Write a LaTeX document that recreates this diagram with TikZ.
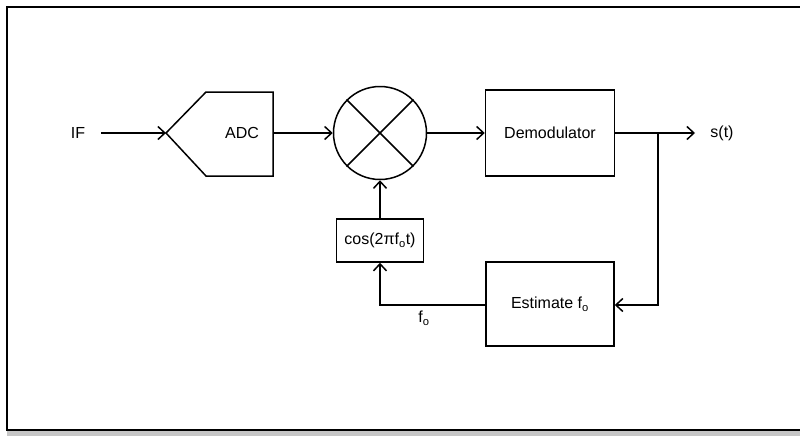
\documentclass[tikz,border=0pt]{standalone}
\usepackage{fontspec}
\setmainfont{Liberation Sans}
\usetikzlibrary{arrows.meta}
\begin{document}
\begin{tikzpicture}[x=1pt,y=-1pt,
  every node/.style={font=\fontsize{16}{18}\selectfont},
  conn/.style={line width=1.5pt,-{Straight Barb[length=7pt,width=13pt,line width=1.5pt]}},
  blk/.style={draw,line width=1.5pt,rectangle,inner sep=0pt}]
\useasboundingbox (0,0) rectangle (800,437);
\fill[gray!45] (7,431) rectangle (800,436);
\draw[line width=1.8pt] (812,7) -- (7,7) -- (7,430) -- (812,430);
% nodes
\node (if) at (78,133) {IF};
\coordinate (ifs) at (101,133);
\coordinate (adctip) at (166,133);
\draw[line width=1.5pt] (166,133) -- (206,92) -- (273,92) -- (273,176) -- (206,176) -- cycle;
\node (adc) at (242,133) {ADC};
\coordinate (adcout) at (273,133);
\node[draw,circle,line width=1.5pt,minimum size=93pt,inner sep=0pt] (mix) at (380,133) {};
\draw[line width=1.5pt] (mix.45) -- (mix.225) (mix.135) -- (mix.315);
\node[blk,minimum width=129pt,minimum height=86pt] (dem) at (550,133) {Demodulator};
\node (st) at (722,133) {s(t)};
\coordinate (stend) at (695,133);
\coordinate (br) at (658,133);
\coordinate (brd) at (658,305);
\node[blk,minimum width=128pt,minimum height=84pt] (est) at (550,304) {Estimate f\textsubscript{o}};
\node[blk,minimum width=87pt,minimum height=43pt] (cos) at (380,240.5) {cos(2πf\textsubscript{o}t)};
\coordinate (corner) at (380,305);
\node (fo) at (424,318) {f\textsubscript{o}};
% connectors
\draw[conn] (ifs) -- (adctip);
\draw[conn] (adcout) -- (mix.west);
\draw[conn] (mix.east) -- (dem.west);
\draw[conn] (dem.east) -- (stend);
\draw[conn] (br) -- (brd) -- (est.east |- brd);
\draw[conn] (est.west |- corner) -- (corner) -- (cos.south);
\draw[conn] (cos.north) -- (mix.south);
\end{tikzpicture}
\end{document}
